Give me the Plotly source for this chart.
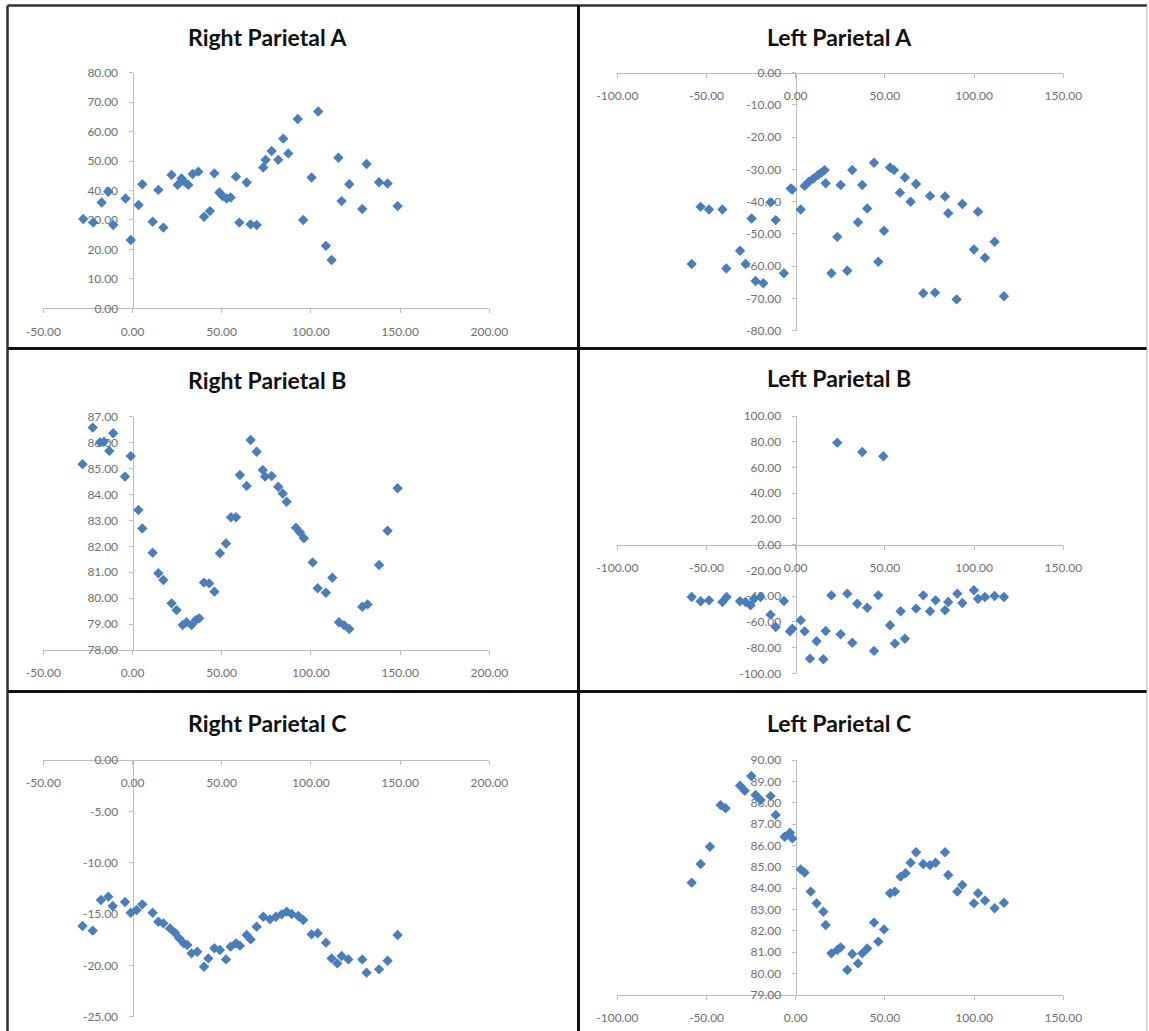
import plotly.graph_objects as go

# ---- data -----------------------------------------------------------------
ra_x = [-27.6, -22.0, -17.3, -13.6, -10.8, -3.9, -1.0, 3.4, 5.5, 11.3, 14.5, 17.3,
        21.9, 25.3, 27.5, 29.0, 31.3, 33.7, 36.9, 40.1, 43.4, 45.9, 48.7, 50.5,
        52.8, 55.0, 58.0, 59.9, 64.0, 66.2, 69.6, 73.3, 74.6, 78.0, 81.7, 84.5,
        87.3, 92.6, 95.7, 100.4, 104.1, 108.4, 111.6, 115.4, 117.2, 121.5, 128.8,
        131.2, 138.2, 143.0, 148.6]
ra_y = [30.3, 29.1, 35.9, 39.6, 28.3, 37.3, 23.2, 35.1, 42.1, 29.4, 40.2, 27.4,
        45.3, 41.9, 44.1, 43.0, 41.9, 45.6, 46.4, 31.1, 33.0, 45.8, 39.3, 38.1,
        37.3, 37.6, 44.7, 29.1, 42.7, 28.5, 28.3, 47.8, 50.4, 53.4, 50.4, 57.6,
        52.6, 64.3, 30.0, 44.4, 66.8, 21.2, 16.4, 51.1, 36.4, 42.1, 33.7,
        49.0, 42.8, 42.4, 34.7]

la_x = [-58.3, -53.3, -48.6, -41.1, -38.9, -31.2, -28.1, -24.7, -22.5, -18.2, -14.1,
        -11.2, -6.6, -2.8, -1.9, 2.8, 5.0, 7.4, 9.9, 12.5, 14.4, 16.2, 16.8, 20.0,
        23.3, 25.2, 28.9, 31.7, 34.9, 37.3, 40.1, 43.9, 46.3, 49.5, 52.9, 55.1,
        58.4, 61.2, 64.4, 67.5, 71.5, 75.3, 78.1, 83.7, 85.5, 90.2, 93.4, 99.9,
        102.2, 106.1, 111.5, 116.7]
la_y = [-59.3, -41.6, -42.4, -42.4, -60.7, -55.2, -59.3, -45.2, -64.6, -65.3, -40.2,
        -45.7, -62.2, -35.9, -36.2, -42.4, -35.1, -33.8, -32.8, -31.7, -31.0, -30.2,
        -34.3, -62.2, -50.9, -34.8, -61.4, -30.2, -46.4, -34.8, -42.1, -27.9, -58.6,
        -49.0, -29.4, -30.2, -37.2, -32.5, -40.0, -34.5, -68.4, -38.2, -68.2, -38.4,
        -43.6, -70.3, -40.7, -54.8, -43.1, -57.4, -52.4, -69.3]

rb_x = [-28.0, -22.3, -18.2, -16.0, -13.0, -10.8, -4.2, -1.0, 3.3, 5.5, 11.3, 14.5,
        17.3, 21.9, 24.7, 28.1, 30.3, 33.1, 35.6, 37.4, 40.1, 43.0, 45.9, 49.0,
        52.4, 55.2, 58.0, 60.2, 64.0, 66.2, 69.6, 73.0, 74.3, 78.0, 81.7, 84.2,
        86.4, 91.6, 93.9, 96.1, 101.0, 103.8, 108.4, 112.0, 115.7, 118.5, 121.5,
        128.8, 131.8, 138.2, 143.0, 148.6]
rb_y = [85.17, 86.58, 86.01, 86.04, 85.68, 86.36, 84.69, 85.48, 83.40, 82.69, 81.75,
        80.96, 80.70, 79.80, 79.54, 78.96, 79.07, 78.96, 79.16, 79.22, 80.60, 80.57,
        80.25, 81.73, 82.11, 83.12, 83.12, 84.75, 84.33, 86.10, 85.65, 84.94, 84.69,
        84.71, 84.30, 84.04, 83.72, 82.72, 82.53, 82.31, 81.38, 80.38, 80.21, 80.79,
        79.07, 78.96, 78.81, 79.67, 79.76, 81.28, 82.60, 84.24]

lb_x = [-58.3, -53.3, -48.6, -41.1, -38.7, -31.2, -28.1, -25.3, -23.4, -19.7, -14.1,
        -11.2, -6.6, -3.2, -1.9, 2.8, 5.0, 8.0, 11.7, 15.5, 16.8, 20.0, 23.3, 25.2,
        28.9, 31.7, 34.5, 37.3, 40.1, 43.9, 46.3, 49.1, 52.9, 55.6, 58.8, 61.2,
        67.5, 71.5, 75.3, 78.4, 83.7, 85.5, 90.6, 93.4, 99.9, 102.2, 106.1, 111.5,
        116.7]
lb_y = [-40.7, -44.0, -43.3, -44.6, -40.7, -44.0, -44.6, -47.2, -42.0, -40.7, -54.4,
        -64.0, -43.8, -67.4, -65.3, -58.8, -67.4, -88.6, -75.1, -89.1, -67.1, -39.4,
        79.3, -69.7, -38.1, -76.2, -45.9, 72.0, -49.0, -82.6, -39.4, 68.7, -62.7,
        -76.9, -51.8, -73.1, -49.7, -39.4, -51.8, -43.3, -51.0, -44.6, -38.1, -45.3,
        -35.5, -42.0, -40.7, -39.9, -40.7]

rc_x = [-28.0, -22.3, -17.7, -13.6, -11.1, -4.2, -1.0, 2.3, 5.5, 11.3, 14.5, 17.3,
        21.0, 23.8, 26.2, 28.8, 30.7, 33.1, 36.3, 40.1, 42.5, 45.9, 49.0, 52.4,
        55.0, 58.0, 60.2, 64.0, 66.2, 69.6, 73.3, 77.1, 80.4, 83.6, 86.4, 89.2,
        92.9, 95.7, 100.4, 103.8, 108.4, 111.6, 114.8, 117.2, 121.0, 128.8, 131.2,
        138.2, 143.0, 148.6]
rc_y = [-16.17, -16.62, -13.64, -13.31, -14.22, -13.83, -14.87, -14.61, -14.06, -14.87,
        -15.75, -15.91, -16.40, -16.82, -17.37, -17.86, -18.02, -18.83, -18.67, -20.13,
        -19.32, -18.34, -18.51, -19.42, -18.18, -17.86, -18.08, -17.05, -17.47, -16.23,
        -15.26, -15.52, -15.26, -15.03, -14.77, -15.00, -15.19, -15.58, -16.98, -16.88,
        -17.79, -19.32, -19.81, -19.09, -19.42, -19.42, -20.71, -20.39, -19.55, -17.05]

lc_x = [-58.3, -53.3, -48.1, -42.1, -39.3, -31.2, -28.6, -24.9, -22.5, -19.7, -14.1,
        -11.2, -6.2, -3.2, -1.9, 2.8, 5.0, 8.4, 11.7, 15.5, 16.8, 20.0, 23.3, 25.2,
        28.9, 31.7, 34.9, 37.3, 40.1, 43.9, 46.3, 49.5, 52.9, 55.6, 58.8, 61.6,
        64.4, 67.5, 71.5, 75.3, 78.4, 83.7, 85.5, 90.6, 93.4, 99.9, 102.2, 106.1,
        111.5, 116.7]
lc_y = [84.26, 85.13, 85.94, 87.89, 87.74, 88.80, 88.56, 89.25, 88.36, 88.13, 88.31,
        87.43, 86.41, 86.60, 86.33, 84.88, 84.73, 83.84, 83.29, 82.90, 82.28, 80.95,
        81.11, 81.23, 80.17, 80.92, 80.48, 80.95, 81.18, 82.39, 81.50, 82.07, 83.76,
        83.84, 84.54, 84.70, 85.19, 85.68, 85.13, 85.08, 85.19, 85.68, 84.62, 83.84,
        84.15, 83.29, 83.76, 83.42, 83.06, 83.32]

titles = ["Right Parietal A", "Left Parietal A", "Right Parietal B",
          "Left Parietal B", "Right Parietal C", "Left Parietal C"]

x_ticks_right = [-50, 0, 50, 100, 150, 200]
x_ticks_left = [-100, -50, 0, 50, 100, 150]
y_ticks_ra = [0, 10, 20, 30, 40, 50, 60, 70, 80]
y_ticks_la = [0, -10, -20, -30, -40, -50, -60, -70, -80]
y_ticks_rb = [78, 79, 80, 81, 82, 83, 84, 85, 86, 87]
y_ticks_lb = [100, 80, 60, 40, 20, 0, -20, -40, -60, -80, -100]
y_ticks_rc = [0, -5, -10, -15, -20, -25]
y_ticks_lc = [79, 80, 81, 82, 83, 84, 85, 86, 87, 88, 89, 90]

# ---- layout ---------------------------------------------------------------
W, H = 1149, 1031
MARKER = "#4a7ebb"
AXIS = "#bdbdbd"
LABEL = "#707070"

# plot-area boxes in pixels: (left, right, top, bottom) and their title centres
panels = [
    dict(x=ra_x, y=ra_y, xt=x_ticks_right, yt=y_ticks_ra, box=(43.3, 489.3, 72.7, 308.3), tc=(267, 37)),
    dict(x=la_x, y=la_y, xt=x_ticks_left, yt=y_ticks_la, box=(617.3, 1063.3, 72.7, 330.7), tc=(839, 37)),
    dict(x=rb_x, y=rb_y, xt=x_ticks_right, yt=y_ticks_rb, box=(43.3, 489.3, 416.7, 650.0), tc=(267, 380)),
    dict(x=lb_x, y=lb_y, xt=x_ticks_left, yt=y_ticks_lb, box=(617.3, 1063.3, 416.0, 673.3), tc=(839, 378)),
    dict(x=rc_x, y=rc_y, xt=x_ticks_right, yt=y_ticks_rc, box=(43.3, 489.3, 760.0, 1016.7), tc=(267, 723)),
    dict(x=lc_x, y=lc_y, xt=x_ticks_left, yt=y_ticks_lc, box=(617.3, 1063.3, 760.0, 995.0), tc=(839, 723)),
]


def px(v):
    return v / W


def py(v):
    return 1 - v / H


def fmt(vals):
    return [f"{v:.2f}" for v in vals]


fig = go.Figure()
layout = {}
annotations = []

for i, p in enumerate(panels, start=1):
    xa, ya = f"xaxis{i}", f"yaxis{i}"
    l, r, t, b = p["box"]
    xmin, xmax = min(p["xt"]), max(p["xt"])
    ymin, ymax = min(p["yt"]), max(p["yt"])
    xdom = [px(l), px(r)]
    ydom = [py(b), py(t)]

    # axes cross at zero (or at the nearest end of the range)
    ycross = min(max(0, ymin), ymax)
    xcross = min(max(0, xmin), xmax)
    xpos = ydom[0] + (ycross - ymin) / (ymax - ymin) * (ydom[1] - ydom[0])
    ypos = xdom[0] + (xcross - xmin) / (xmax - xmin) * (xdom[1] - xdom[0])

    fig.add_trace(go.Scatter(
        x=p["x"], y=p["y"], mode="markers",
        marker=dict(symbol="diamond", size=8, color=MARKER, line=dict(width=0)),
        xaxis=f"x{i}", yaxis=f"y{i}", showlegend=False, cliponaxis=False,
    ))

    common = dict(
        showgrid=False, zeroline=False, showline=True, linecolor=AXIS, linewidth=1,
        ticks="outside", ticklen=4, tickcolor=AXIS, tickwidth=1,
        tickfont=dict(family="Lato", size=12, color=LABEL),
        ticklabelstandoff=8, layer="below traces", fixedrange=True,
        automargin=False,
    )
    layout[xa] = dict(common, domain=xdom, range=[xmin, xmax], anchor="free",
                      position=xpos, side="bottom", tickmode="array",
                      tickvals=p["xt"], ticktext=fmt(p["xt"]))
    layout[ya] = dict(common, domain=ydom, range=[ymin, ymax], anchor="free",
                      position=ypos, side="left", tickmode="array",
                      tickvals=p["yt"], ticktext=fmt(p["yt"]))

    annotations.append(dict(
        text=f"<b>{titles[i - 1]}</b>", x=px(p["tc"][0]), y=py(p["tc"][1]),
        xref="paper", yref="paper", xanchor="center", yanchor="middle",
        showarrow=False, font=dict(family="Lato", size=23, color="#111111"),
    ))

# panel frame lines
shapes = []
for x0, y0, x1, y1, w, c in [
    (7.5, 5.5, 1147, 5.5, 2.5, "#333333"),      # top
    (7.5, 5.5, 7.5, 1031, 2.5, "#333333"),       # left
    (578.5, 5.5, 578.5, 1031, 3, "#111111"),     # centre divider
    (7.5, 348.5, 1147, 348.5, 3, "#111111"),     # first row divider
    (7.5, 691.5, 1147, 691.5, 3, "#111111"),     # second row divider
    (1147, 5.5, 1147, 1031, 1, "#bbbbbb"),       # right edge
]:
    shapes.append(dict(type="line", xref="paper", yref="paper",
                       x0=px(x0), y0=py(y0), x1=px(x1), y1=py(y1),
                       line=dict(color=c, width=w)))

fig.update_layout(
    width=W, height=H, autosize=False,
    margin=dict(l=0, r=0, t=0, b=0, pad=0, autoexpand=False),
    paper_bgcolor="white", plot_bgcolor="white",
    annotations=annotations, shapes=shapes,
    **layout,
)

fig.write_html("out.html")
